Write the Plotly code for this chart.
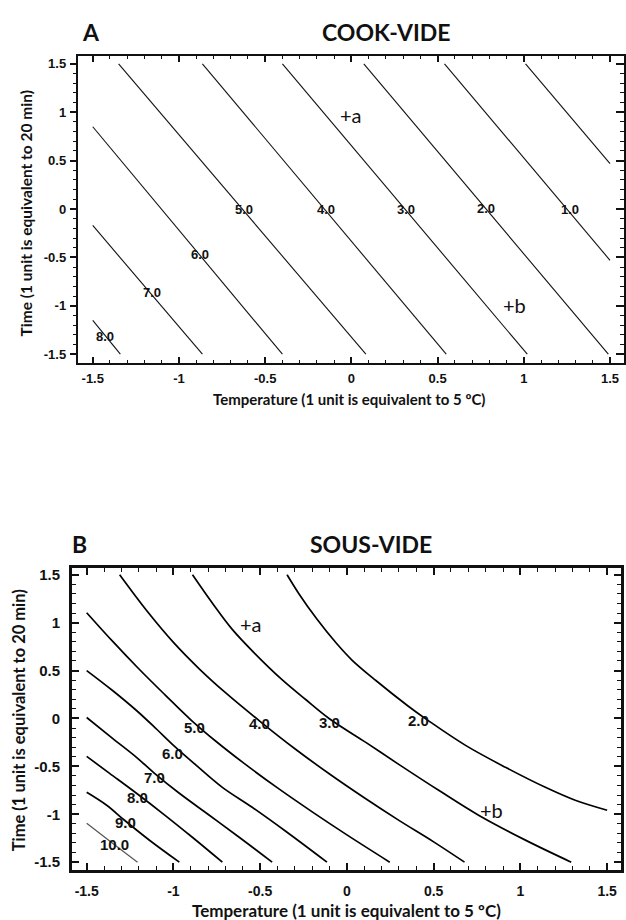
import plotly.graph_objects as go

# ---------------- Data: panel A (COOK-VIDE) contour lines ----------------
A_levels = ["8.0", "7.0", "6.0", "5.0", "4.0", "3.0", "2.0", "1.0", "0.0"]
A_line_x = [
    [-1.5, -1.34],
    [-1.5, -0.864],
    [-1.5, -0.40],
    [-1.35, 0.084],
    [-0.864, 0.55],
    [-0.40, 1.02],
    [0.072, 1.49],
    [0.54, 1.5],
    [1.01, 1.5],
]
A_line_y = [
    [-1.15, -1.5],
    [-0.17, -1.5],
    [0.85, -1.5],
    [1.5, -1.5],
    [1.5, -1.5],
    [1.5, -1.5],
    [1.5, -1.5],
    [1.5, -0.53],
    [1.5, 0.47],
]
A_label_text = ["8.0", "7.0", "6.0", "5.0", "4.0", "3.0", "2.0", "1.0"]
A_label_x = [-1.43, -1.155, -0.88, -0.62, -0.15, 0.315, 0.78, 1.27]
A_label_y = [-1.32, -0.86, -0.47, 0.0, 0.0, 0.0, 0.01, 0.0]

# ---------------- Data: panel B (SOUS-VIDE) contour lines ----------------
B_levels = ["2.0", "3.0", "4.0", "5.0", "6.0", "7.0", "8.0", "9.0", "10.0"]
B_line_x = [
    [-0.345, -0.276, -0.172, -0.063, 0.029, 0.167, 0.356, 0.471, 0.684, 0.914, 1.144, 1.316, 1.5],
    [-0.89, -0.776, -0.661, -0.529, -0.374, -0.236, -0.103, 0.109, 0.299, 0.529, 0.759, 1.029, 1.293],
    [-1.31, -1.15, -1.0, -0.85, -0.7, -0.494, -0.3, -0.1, 0.1, 0.3, 0.5, 0.678],
    [-1.5, -1.35, -1.2, -1.05, -0.9, -0.75, -0.6, -0.4, -0.2, 0.0, 0.247],
    [-1.5, -1.351, -1.213, -1.098, -1.006, -0.868, -0.718, -0.546, -0.351, -0.115],
    [-1.5, -1.351, -1.213, -1.109, -0.966, -0.793, -0.621, -0.431],
    [-1.5, -1.368, -1.213, -1.063, -0.891, -0.718],
    [-1.5, -1.385, -1.282, -1.138, -0.966],
    [-1.5, -1.351, -1.207],
]
B_line_y = [
    [1.5, 1.300, 1.035, 0.790, 0.610, 0.396, 0.125, -0.025, -0.281, -0.510, -0.719, -0.854, -0.958],
    [1.5, 1.205, 0.930, 0.675, 0.405, 0.195, 0.0, -0.25, -0.479, -0.75, -1.01, -1.27, -1.5],
    [1.5, 1.116, 0.794, 0.516, 0.269, -0.04, -0.316, -0.580, -0.828, -1.064, -1.288, -1.5],
    [1.104, 0.804, 0.519, 0.249, -0.014, -0.246, -0.459, -0.725, -0.975, -1.215, -1.5],
    [0.5, 0.292, 0.083, -0.110, -0.270, -0.490, -0.719, -0.927, -1.180, -1.5],
    [0.010, -0.208, -0.406, -0.573, -0.781, -1.010, -1.240, -1.5],
    [-0.396, -0.573, -0.781, -0.990, -1.240, -1.5],
    [-0.771, -0.906, -1.0625, -1.271, -1.5],
    [-1.094, -1.302, -1.5],
]
B_label_text = ["2.0", "3.0", "4.0", "5.0", "6.0", "7.0", "8.0", "9.0", "10.0"]
B_label_x = [0.414, -0.103, -0.506, -0.879, -1.006, -1.109, -1.207, -1.276, -1.339]
B_label_y = [-0.021, -0.042, -0.052, -0.094, -0.365, -0.615, -0.823, -1.083, -1.3125]

# point markers (+a, +b)
A_marks_text = ["+a", "+b"]
A_marks_x = [0.0, 0.945]
A_marks_y = [0.97, -0.99]
B_marks_text = ["+a", "+b"]
B_marks_x = [-0.552, 0.833]
B_marks_y = [0.99, -0.958]

tick_vals = [-1.5, -1, -0.5, 0, 0.5, 1, 1.5]
tick_text = ["-1.5", "-1", "-0.5", "0", "0.5", "1", "1.5"]

x_title = "Temperature (1 unit is equivalent to 5 ºC)"
y_title = "Time (1 unit is equivalent to 20 min)"

W, H = 626, 920

fig = go.Figure()

for lv, xs, ys in zip(A_levels, A_line_x, A_line_y):
    fig.add_trace(go.Scatter(x=xs, y=ys, mode="lines", xaxis="x", yaxis="y",
                             line=dict(color="#111111", width=1.1),
                             name=lv, showlegend=False, hoverinfo="skip"))

for lv, xs, ys in zip(B_levels, B_line_x, B_line_y):
    col = "#555555" if lv == "10.0" else "#000000"
    wd = 1.2 if lv == "10.0" else 1.7
    fig.add_trace(go.Scatter(x=xs, y=ys, mode="lines", xaxis="x2", yaxis="y2",
                             line=dict(color=col, width=wd, shape="spline", smoothing=1.0),
                             name=lv, showlegend=False, hoverinfo="skip"))

# invisible trace for right-hand tick axis of panel A
fig.add_trace(go.Scatter(x=[0], y=[0], xaxis="x", yaxis="y3", mode="markers",
                         marker=dict(opacity=0), showlegend=False, hoverinfo="skip"))

ann = []
for t, x, y in zip(A_label_text, A_label_x, A_label_y):
    ann.append(dict(x=x, y=y, xref="x", yref="y", text=t, showarrow=False,
                    font=dict(family="Liberation Sans", size=13, color="#111111", weight="bold")))
for t, x, y in zip(B_label_text, B_label_x, B_label_y):
    ann.append(dict(x=x, y=y, xref="x2", yref="y2", text=t, showarrow=False,
                    font=dict(family="Liberation Sans", size=15, color="#111111", weight="bold")))
for t, x, y in zip(A_marks_text, A_marks_x, A_marks_y):
    ann.append(dict(x=x, y=y, xref="x", yref="y", text=t, showarrow=False,
                    font=dict(family="Lato", size=20, color="#111111")))
for t, x, y in zip(B_marks_text, B_marks_x, B_marks_y):
    ann.append(dict(x=x, y=y, xref="x2", yref="y2", text=t, showarrow=False,
                    font=dict(family="Lato", size=20, color="#111111")))

def px_x(p):
    return p / W

def px_y(p):
    return 1 - p / H

def paper_text(x, y, text, font, angle=0):
    return dict(x=px_x(x), y=px_y(y), xref="paper", yref="paper", text=text,
                showarrow=False, xanchor="center", yanchor="middle",
                textangle=angle, font=font)

title_font = dict(family="Lato", size=23, color="#111111", weight="bold")
ann += [
    paper_text(91, 30, "A", title_font),
    paper_text(388, 30, "COOK-VIDE", title_font),
    paper_text(80, 543, "B", title_font),
    paper_text(372, 543, "SOUS-VIDE", title_font),
    paper_text(350, 398, x_title, dict(family="Lato", size=15, color="#111111", weight="bold")),
    paper_text(26, 212, y_title, dict(family="Lato", size=15.5, color="#111111", weight="bold"), -90),
    paper_text(348, 910, x_title, dict(family="Lato", size=17, color="#111111", weight="bold")),
    paper_text(19, 720, y_title, dict(family="Lato", size=16.5, color="#111111", weight="bold"), -90),
]

tickfont_A = dict(family="Liberation Sans", size=13, color="#111111", weight="bold")
tickfont_Bx = dict(family="Liberation Sans", size=14, color="#111111", weight="bold")
tickfont_By = dict(family="Liberation Sans", size=15, color="#111111", weight="bold")

fig.update_layout(
    width=W, height=H,
    margin=dict(l=0, r=0, t=0, b=0),
    paper_bgcolor="white", plot_bgcolor="white",
    annotations=ann,
    xaxis=dict(domain=[78 / W, 1.0], range=[-1.587, 1.581], anchor="y",
               tickmode="array", tickvals=tick_vals, ticktext=tick_text,
               ticks="inside", ticklen=6, tickwidth=1.5, tickcolor="#111111",
               minor=dict(tickmode="linear", tick0=0, dtick=0.1, ticks="inside", ticklen=3,
                          tickwidth=1, tickcolor="#111111"),
               showline=True, linewidth=2, linecolor="#111111", mirror="ticks",
               showgrid=False, zeroline=False, tickfont=tickfont_A, ticklabelstandoff=2),
    yaxis=dict(domain=[1 - 362 / H, 1 - 54 / H], range=[-1.593, 1.582], anchor="x",
               tickmode="array", tickvals=tick_vals, ticktext=tick_text,
               ticks="outside", ticklen=6, tickwidth=1.5, tickcolor="#111111",
               minor=dict(tickmode="linear", tick0=0, dtick=0.1, ticks="outside", ticklen=3,
                          tickwidth=1, tickcolor="#111111"),
               showline=True, linewidth=2, linecolor="#111111", mirror=True,
               showgrid=False, zeroline=False, tickfont=tickfont_A, ticklabelstandoff=1),
    yaxis3=dict(overlaying="y", side="right", anchor="x", range=[-1.593, 1.582],
                tickmode="array", tickvals=tick_vals, showticklabels=False,
                ticks="inside", ticklen=8, tickwidth=1.5, tickcolor="#111111",
                minor=dict(tickmode="linear", tick0=0, dtick=0.1, ticks="inside", ticklen=4,
                           tickwidth=1, tickcolor="#111111"),
                showline=False, showgrid=False, zeroline=False),
    xaxis2=dict(domain=[72 / W, 623 / W], range=[-1.586, 1.580], anchor="y2",
                tickmode="array", tickvals=tick_vals, ticktext=tick_text,
                ticks="inside", ticklen=7, tickwidth=1.5, tickcolor="#111111",
                minor=dict(tickmode="linear", tick0=0, dtick=0.1, ticks="inside", ticklen=4,
                           tickwidth=1, tickcolor="#111111"),
                showline=True, linewidth=2.5, linecolor="#111111", mirror="ticks",
                showgrid=False, zeroline=False, tickfont=tickfont_Bx, ticklabelstandoff=6),
    yaxis2=dict(domain=[1 - 870 / H, 1 - 567 / H], range=[-1.583, 1.573], anchor="x2",
                tickmode="array", tickvals=tick_vals, ticktext=tick_text,
                ticks="inside", ticklen=7, tickwidth=1.5, tickcolor="#111111",
                minor=dict(tickmode="linear", tick0=0, dtick=0.1, ticks="inside", ticklen=4,
                           tickwidth=1, tickcolor="#111111"),
                showline=True, linewidth=2.5, linecolor="#111111", mirror="ticks",
                showgrid=False, zeroline=False, tickfont=tickfont_By, ticklabelstandoff=6),
)

fig.write_html("out.html")
